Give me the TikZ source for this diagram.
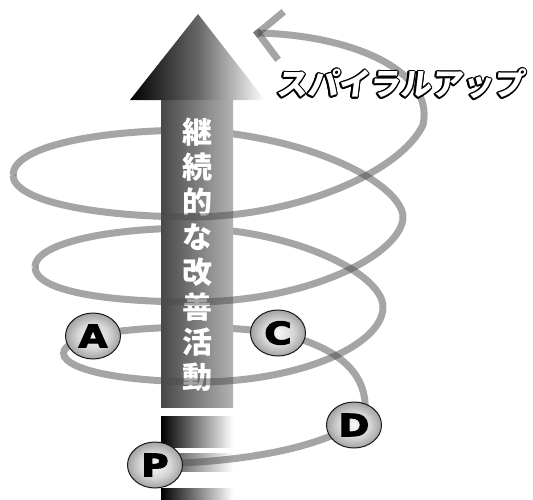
\documentclass[tikz,border=0pt]{standalone}
\usepackage{fontspec}
\newfontfamily\jp{Noto Sans CJK JP}
\newfontfamily\jpslant{Noto Sans CJK JP}[FakeSlant=0.12]
\newfontfamily\lat{DejaVu Sans}[BoldFeatures={FakeBold=3}]
\usetikzlibrary{shapes.geometric}
\pgfdeclareradialshading{ballshade}{\pgfpoint{0bp}{0bp}}{color(0bp)=(black!3); color(14bp)=(black!16); color(28bp)=(black!42); color(40bp)=(black!70); color(50bp)=(black!90)}
\tikzset{
  sp/.style={line width=7pt, draw=black!70, opacity=0.5, line cap=butt},
  ball/.style={ellipse, minimum width=55pt, minimum height=46pt, inner sep=0pt,
    shade, shading=ballshade, draw=black!90, line width=1pt,
    font=\lat\bfseries\fontsize{31}{31}\selectfont},
  vchar/.style={text=white, inner sep=0pt, font=\jp\bfseries\fontsize{30}{30}\selectfont},
  kata/.style={inner sep=0pt, font=\jpslant\bfseries\fontsize{31}{31}\selectfont}
}
\begin{document}
\begin{tikzpicture}[x=1pt,y=-1pt]
\useasboundingbox (0,0) rectangle (533,499);
% back halves of the spiral
\draw[sp] (403,217) .. controls (403,190) and (330,140) .. (197,130) .. controls (90,130) and (13,148) .. (13,175);
\draw[sp] (383,307) .. controls (383,275) and (300,232) .. (197,228) .. controls (100,228) and (35,245) .. (35,267);
\draw[sp] (278,333) .. controls (220,325) and (150,325) .. (93,335);
% arrow
\shade[left color=black!72, right color=black!30] (161,100) rectangle (233,407);
\shade[left color=black, right color=white, middle color=black!60] (130,100) -- (198,14) -- (265,100) -- cycle;
\shade[left color=black, right color=white] (161,416) rectangle (233,447);
\shade[left color=black!75, right color=white] (161,453) rectangle (233,471);
\shade[left color=black, right color=white] (161,488) rectangle (233,499);
\foreach \ch [count=\i from 0] in {継,続,的,な,改,善,活,動}
  \node[vchar] (v\i) at (197,{132+35*\i}) {\ch};
% front halves of the spiral
\draw[sp] (13,175) .. controls (13,200) and (90,217) .. (197,217) .. controls (300,215) and (400,172) .. (423,125) .. controls (435,70) and (350,35) .. (258,33);
\draw[sp, line cap=rect] (281,14) -- (258,33);
\draw[sp, line cap=rect] (258,33) -- (276,57);
\draw[sp] (35,267) .. controls (35,290) and (100,302) .. (197,302) .. controls (320,300) and (403,250) .. (403,217);
\draw[sp] (75,342) .. controls (45,355) and (70,380) .. (197,382) .. controls (300,382) and (383,345) .. (383,307);
\draw[sp] (278,333) .. controls (330,345) and (368,368) .. (365,412);
\draw[sp] (354,425) .. controls (310,450) and (240,462) .. (155,464);
% letter balls
\node[ball] (A) at (93,336) {\scalebox{1.2}[1]{A}};
\node[ball] (C) at (278,333) {\scalebox{1.2}[1]{C}};
\node[ball] (D) at (354,425) {\scalebox{1.2}[1]{D}};
\node[ball] (P) at (155,465) {\scalebox{1.2}[1]{P}};
% outlined title
\foreach \a in {0,30,...,330}
  \path (400,84) ++(\a:1.6) node[kata, text=black] {スパイラルアップ};
\node[kata, text=white] (title) at (400,84) {スパイラルアップ};
\end{tikzpicture}
\end{document}
